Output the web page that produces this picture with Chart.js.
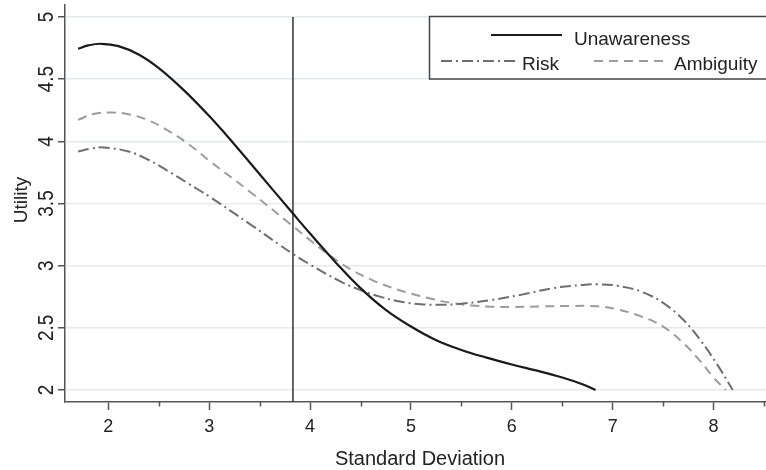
<!DOCTYPE html>
<html>
<head>
<meta charset="utf-8">
<title>Utility by standard deviation</title>
<script src="https://cdn.jsdelivr.net/npm/chart.js"></script>
<style>
  body { margin: 0; background: #fff; }
</style>
</head>
<body>
<canvas id="utilityChart" width="766" height="470"></canvas>

<script>
// values
var seriesNames = ["Unawareness", "Risk", "Ambiguity"];

var sdUnaware = [1.70, 1.80, 1.93, 2.10, 2.30, 2.50, 2.75, 3.00, 3.25, 3.50, 3.83, 4.00, 4.27, 4.50, 4.75, 5.00, 5.25, 5.50, 5.75, 6.00, 6.25, 6.50, 6.70, 6.83];
var utilUnaware = [4.745, 4.772, 4.785, 4.766, 4.699, 4.589, 4.41, 4.203, 3.975, 3.736, 3.419, 3.258, 3.012, 2.819, 2.644, 2.51, 2.40, 2.322, 2.26, 2.205, 2.155, 2.10, 2.046, 2.00];

var sdRisk = [1.70, 1.82, 1.95, 2.20, 2.40, 2.60, 2.80, 3.00, 3.40, 3.70, 3.83, 4.00, 4.30, 4.50, 4.70, 4.90, 5.10, 5.30, 5.50, 5.80, 6.10, 6.40, 6.70, 6.85, 7.05, 7.28, 7.50, 7.70, 7.87, 8.04, 8.19];
var utilRisk = [3.918, 3.94, 3.951, 3.918, 3.85, 3.757, 3.657, 3.556, 3.336, 3.166, 3.094, 3.009, 2.873, 2.803, 2.749, 2.71, 2.689, 2.685, 2.694, 2.724, 2.767, 2.818, 2.845, 2.85, 2.838, 2.792, 2.70, 2.565, 2.40, 2.20, 2.00];

var sdAmbiguity = [1.70, 1.85, 2.02, 2.20, 2.40, 2.60, 2.80, 3.00, 3.40, 3.80, 4.00, 4.20, 4.40, 4.60, 4.80, 5.00, 5.20, 5.40, 5.60, 5.80, 6.00, 6.30, 6.60, 6.85, 7.05, 7.28, 7.50, 7.70, 7.87, 8.00, 8.12];
var utilAmbiguity = [4.173, 4.22, 4.232, 4.218, 4.168, 4.083, 3.975, 3.845, 3.597, 3.337, 3.205, 3.079, 2.971, 2.89, 2.825, 2.775, 2.734, 2.70, 2.68, 2.67, 2.668, 2.672, 2.676, 2.673, 2.648, 2.592, 2.51, 2.378, 2.23, 2.10, 2.00];

var cutoffSd = 3.83;
var xTicks = [2, 3, 4, 5, 6, 7, 8];
var xMinorTicks = [2.5, 3.5, 4.5, 5.5, 6.5, 7.5, 8.5];
var yTicks = [2, 2.5, 3, 3.5, 4, 4.5, 5];

var FONT = '"Liberation Sans", Arial, sans-serif';
var riskDash = [11, 4, 2, 4];
var ambDash = [9, 6];

function toPoints(xs, ys) {
    return xs.map(function (x, i) { return { x: x, y: ys[i] }; });
}

// rotated y labels, minor ticks, titles and the boxed legend
var decorPlugin = {
    id: "decor",
    afterDraw: function (chart) {
        var ctx = chart.ctx;
        var xs = chart.scales.x, ys = chart.scales.y;
        var area = chart.chartArea;
        ctx.save();

        // minor ticks on x
        ctx.strokeStyle = "#555";
        ctx.lineWidth = 1.5;
        xMinorTicks.forEach(function (v) {
            var px = Math.round(xs.getPixelForValue(v)) + 0.5;
            ctx.beginPath();
            ctx.moveTo(px, area.bottom);
            ctx.lineTo(px, area.bottom + 4.5);
            ctx.stroke();
        });

        // y tick labels, turned 90 degrees
        ctx.fillStyle = "#222";
        ctx.font = "19px " + FONT;
        ctx.textAlign = "center";
        ctx.textBaseline = "alphabetic";
        yTicks.forEach(function (v) {
            var py = ys.getPixelForValue(v);
            ctx.save();
            ctx.translate(53, py);
            ctx.rotate(-Math.PI / 2);
            ctx.scale(1, 1.2);
            ctx.fillText(String(v), 0, 0);
            ctx.restore();
        });

        // axis titles
        ctx.save();
        ctx.translate(26.5, 200);
        ctx.rotate(-Math.PI / 2);
        ctx.font = "19px " + FONT;
        ctx.fillText("Utility", 0, 0);
        ctx.restore();

        ctx.font = "20px " + FONT;
        ctx.fillText("Standard Deviation", 420, 465);

        // legend box
        ctx.fillStyle = "#fff";
        ctx.fillRect(429.5, 16.5, 340, 62.5);
        ctx.strokeStyle = "#444";
        ctx.lineWidth = 1.5;
        ctx.strokeRect(429.5, 16.5, 340, 62.5);

        function sample(x1, x2, y, color, width, dash) {
            ctx.save();
            ctx.strokeStyle = color;
            ctx.lineWidth = width;
            ctx.setLineDash(dash);
            ctx.beginPath();
            ctx.moveTo(x1, y);
            ctx.lineTo(x2, y);
            ctx.stroke();
            ctx.restore();
        }
        sample(491, 562, 35, "#1a1a1a", 2.2, []);
        sample(441, 517, 61, "#6e6e6e", 2, riskDash);
        sample(594, 668, 61, "#9c9c9c", 2, ambDash);

        ctx.fillStyle = "#222";
        ctx.font = "19px " + FONT;
        ctx.textAlign = "left";
        ctx.fillText(seriesNames[0], 574, 44.5);
        ctx.fillText(seriesNames[1], 522, 70);
        ctx.fillText(seriesNames[2], 674, 70);

        ctx.restore();
    }
};

var ctx = document.getElementById("utilityChart").getContext("2d");

var chart = new Chart(ctx, {
    type: "scatter",
    data: {
        datasets: [
            {
                label: seriesNames[0],
                data: toPoints(sdUnaware, utilUnaware),
                showLine: true,
                borderColor: "#1a1a1a",
                borderWidth: 2.2,
                pointRadius: 0,
                tension: 0.4
            },
            {
                label: seriesNames[1],
                data: toPoints(sdRisk, utilRisk),
                showLine: true,
                borderColor: "#6e6e6e",
                borderWidth: 2,
                borderDash: riskDash,
                pointRadius: 0,
                tension: 0.4
            },
            {
                label: seriesNames[2],
                data: toPoints(sdAmbiguity, utilAmbiguity),
                showLine: true,
                borderColor: "#9c9c9c",
                borderWidth: 2,
                borderDash: ambDash,
                pointRadius: 0,
                tension: 0.4
            },
            {
                label: "cutoff",
                data: [{ x: cutoffSd, y: 5 }, { x: cutoffSd, y: 1.903 }],
                showLine: true,
                borderColor: "#333",
                borderWidth: 1.5,
                pointRadius: 0
            }
        ]
    },
    options: {
        responsive: false,
        animation: false,
        layout: { padding: { top: 5, left: 0, right: 0, bottom: 0 } },
        plugins: {
            legend: { display: false },
            tooltip: { enabled: false }
        },
        scales: {
            x: {
                type: "linear",
                min: 1.57,
                max: 8.52,
                afterBuildTicks: function (s) {
                    s.ticks = xTicks.map(function (v) { return { value: v }; });
                },
                afterFit: function (s) { s.height = 68; },
                grid: { drawOnChartArea: false, drawTicks: true, tickLength: 8, tickColor: "#555", tickWidth: 1.5 },
                border: { color: "#555", width: 1.5 },
                ticks: {
                    font: { family: FONT, size: 18 },
                    color: "#222",
                    padding: 6,
                    maxRotation: 0,
                    autoSkip: false
                }
            },
            y: {
                type: "linear",
                min: 1.903,
                max: 5.097,
                afterBuildTicks: function (s) {
                    s.ticks = yTicks.map(function (v) { return { value: v }; });
                },
                afterFit: function (s) { s.width = 65; },
                grid: { color: "#e4eaed", lineWidth: 1.5, drawTicks: true, tickLength: 7, tickColor: "#555", tickWidth: 1.5 },
                border: { color: "#555", width: 1.5 },
                ticks: { display: false }
            }
        }
    },
    plugins: [decorPlugin]
});
</script>
</body>
</html>
